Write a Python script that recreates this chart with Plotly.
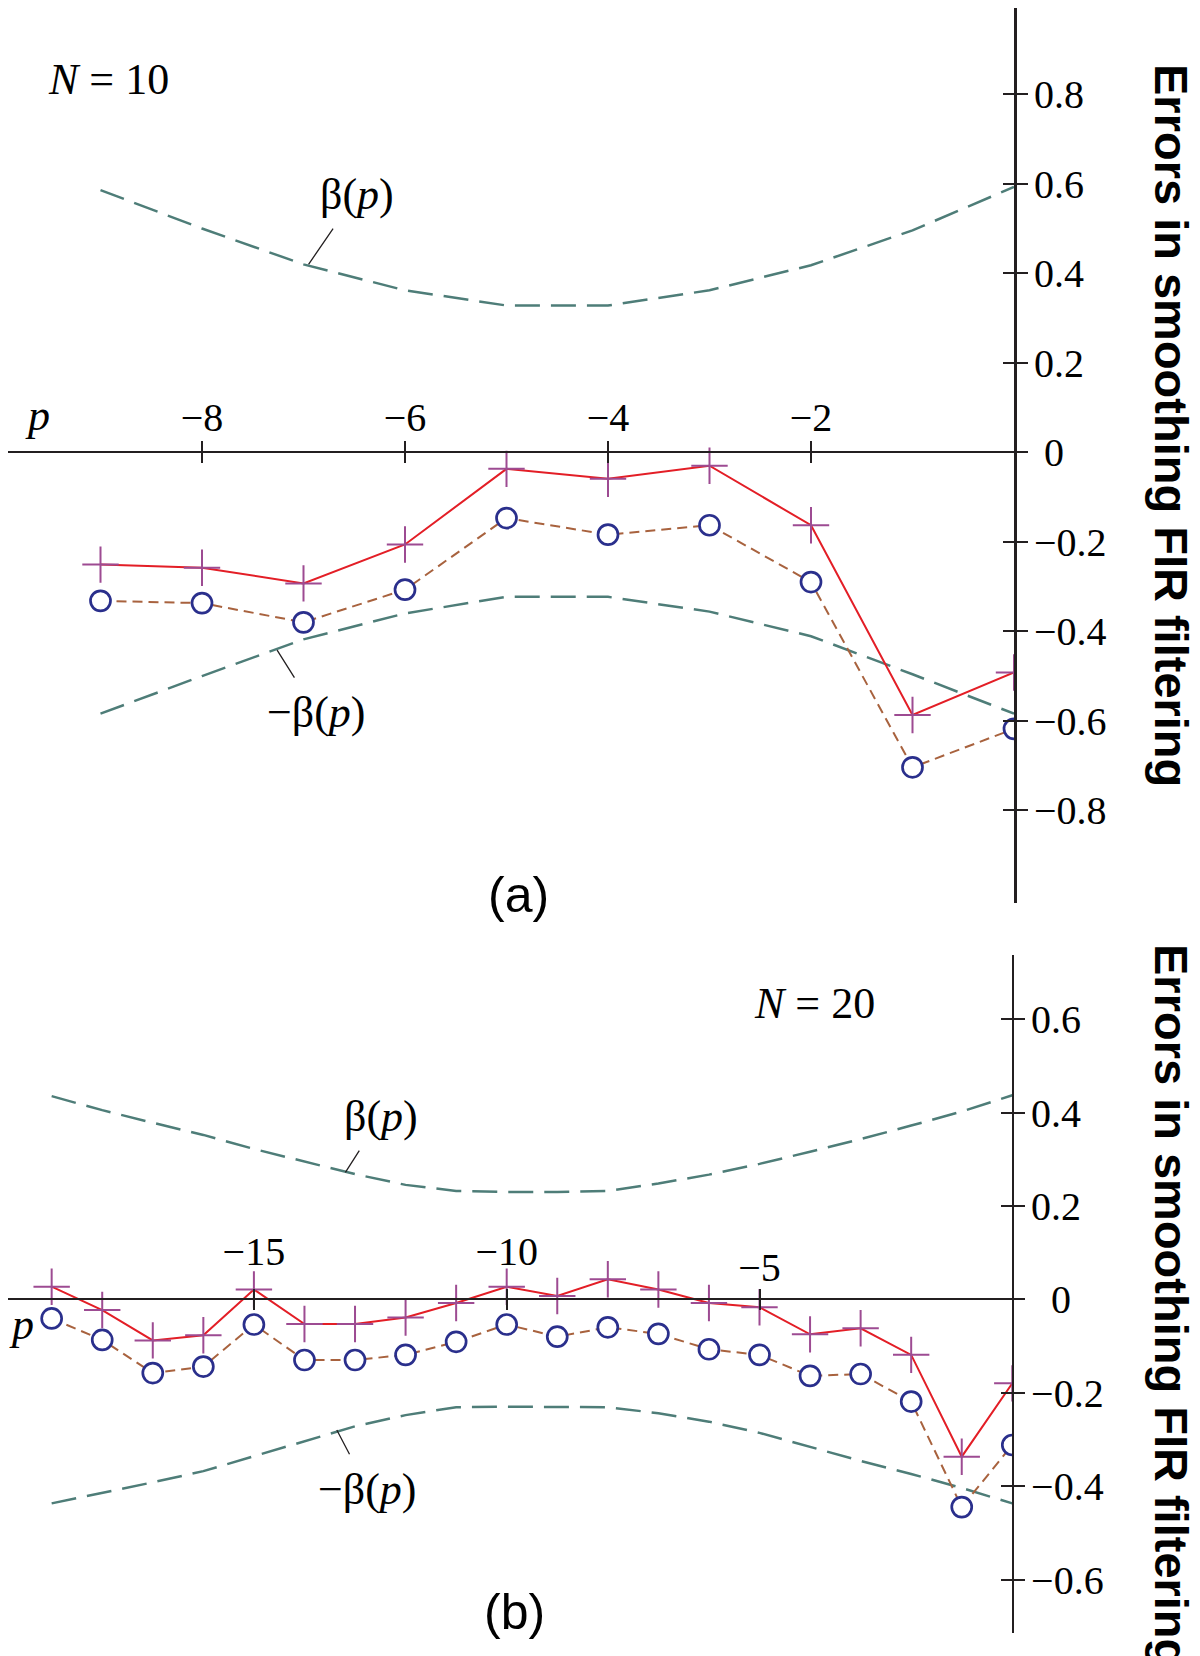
import plotly.graph_objects as go

# ---------------- data : panel (a), N = 10 ----------------
p_a = [-9, -8, -7, -6, -5, -4, -3, -2, -1, 0]
plus_a = [-0.251, -0.258, -0.293, -0.206, -0.037, -0.059, -0.030, -0.163, -0.587, -0.492]
circ_a = [-0.332, -0.337, -0.380, -0.307, -0.147, -0.184, -0.163, -0.290, -0.704, -0.618]
beta_a = [0.586, 0.500, 0.420, 0.362, 0.328, 0.328, 0.362, 0.418, 0.496, 0.593]
negbeta_a = [-0.584, -0.500, -0.418, -0.360, -0.323, -0.323, -0.356, -0.411, -0.496, -0.584]

# ---------------- data : panel (b), N = 20 ----------------
p_b = [-19, -18, -17, -16, -15, -14, -13, -12, -11, -10,
       -9, -8, -7, -6, -5, -4, -3, -2, -1, 0]
plus_b = [0.027, -0.023, -0.088, -0.077, 0.021, -0.053, -0.053, -0.039, -0.008, 0.027,
          0.007, 0.043, 0.021, -0.008, -0.017, -0.075, -0.062, -0.119, -0.337, -0.180]
circ_b = [-0.041, -0.087, -0.158, -0.144, -0.054, -0.130, -0.130, -0.119, -0.091, -0.054,
          -0.080, -0.060, -0.074, -0.107, -0.119, -0.164, -0.160, -0.219, -0.445, -0.312]
beta_b = [0.435, 0.405, 0.378, 0.352, 0.322, 0.295, 0.268, 0.245, 0.232, 0.230,
          0.230, 0.232, 0.248, 0.267, 0.290, 0.316, 0.343, 0.372, 0.402, 0.437]
negbeta_b = [-0.437, -0.415, -0.392, -0.368, -0.336, -0.305, -0.272, -0.248, -0.231, -0.230,
             -0.230, -0.231, -0.244, -0.262, -0.286, -0.316, -0.346, -0.374, -0.404, -0.437]

# ---------------- ticks ----------------
xt_a = [-8, -6, -4, -2]
xt_a_text = ["\u22128", "\u22126", "\u22124", "\u22122"]
yt_a = [-0.8, -0.6, -0.4, -0.2, 0, 0.2, 0.4, 0.6, 0.8]
yt_a_text = ["\u22120.8", "\u22120.6", "\u22120.4", "\u22120.2", "\u20050", "0.2", "0.4", "0.6", "0.8"]

xt_b = [-15, -10, -5]
xt_b_text = ["\u221215", "\u221210", ""]
xt_b2 = [-5]
xt_b2_text = ["\u22125"]
yt_b = [-0.6, -0.4, -0.2, 0, 0.2, 0.4, 0.6]
yt_b_text = ["\u22120.6", "\u22120.4", "\u22120.2", "\u20020", "0.2", "0.4", "0.6"]

# ---------------- layout geometry (page pixels) ----------------
PAGE_W, PAGE_H = 1200, 1656
OFF = 8                      # default body margin of the html page
FW, FH = PAGE_W - OFF, PAGE_H - OFF


def fx(px):
    return (px - OFF) / FW


def fy(py):
    return 1 - (py - OFF) / FH


def panel_geometry(x0_px, x_ppu, x_ext, y0_px, y_ppu, y_ext):
    xe0, xe1 = max(x_ext[0], OFF), x_ext[1]
    ye0, ye1 = max(y_ext[0], OFF), y_ext[1]
    xdom = [fx(xe0), fx(xe1)]
    xrng = [(xe0 - x0_px) / x_ppu, (xe1 - x0_px) / x_ppu]
    ydom = [fy(ye1), fy(ye0)]
    yrng = [(y0_px - ye1) / y_ppu, (y0_px - ye0) / y_ppu]
    return xdom, xrng, ydom, yrng


XA, XRA, YA, YRA = panel_geometry(1014, 101.5, (0, 1014), 452.3, 447.5, (0, 903))
XB, XRB, YB, YRB = panel_geometry(1012.3, 50.56, (0, 1012.3), 1299.3, 467.0, (955, 1633))


def zero_pos(dom, rng):
    return dom[0] + (dom[1] - dom[0]) * (0 - rng[0]) / (rng[1] - rng[0])


POS_A = zero_pos(YA, YRA)
POS_B = zero_pos(YB, YRB)

AX = "#231f20"
SERIF = "Liberation Serif"
SANS = "Liberation Sans"
TEAL = "#4e7d78"
RED = "#e31e26"
PURPLE = "#9d4b92"
BROWN = "#a8623e"
NAVY = "#2a2f8c"

fig = go.Figure()


def add_panel(p, beta, negbeta, plus, circ, xa, ya):
    fig.add_trace(go.Scatter(x=p, y=beta, mode="lines", xaxis=xa, yaxis=ya,
                             line=dict(color=TEAL, width=2.5, dash="25px,11px")))
    fig.add_trace(go.Scatter(x=p, y=negbeta, mode="lines", xaxis=xa, yaxis=ya,
                             line=dict(color=TEAL, width=2.5, dash="25px,11px")))
    fig.add_trace(go.Scatter(x=p, y=circ, mode="lines+markers", xaxis=xa, yaxis=ya,
                             line=dict(color=BROWN, width=2, dash="10px,6px"),
                             marker=dict(symbol="circle", size=20, color="white",
                                         line=dict(color=NAVY, width=2.7))))
    fig.add_trace(go.Scatter(x=p, y=plus, mode="lines+markers", xaxis=xa, yaxis=ya,
                             line=dict(color=RED, width=2),
                             marker=dict(symbol="cross-thin", size=26, color=PURPLE,
                                         line=dict(color=PURPLE, width=2))))


add_panel(p_a, beta_a, negbeta_a, plus_a, circ_a, "x", "y")
add_panel(p_b, beta_b, negbeta_b, plus_b, circ_b, "x2", "y2")

# empty helper traces so that the overlaid tick axes (crossing ticks) are drawn
for xa, ya in [("x3", "y3"), ("x4", "y4"), ("x5", "y4")]:
    fig.add_trace(go.Scatter(x=[None], y=[None], xaxis=xa, yaxis=ya, mode="lines",
                             hoverinfo="skip"))

tickfont = dict(family=SERIF, size=40, color="black")
common = dict(showgrid=False, zeroline=False, tickcolor=AX, tickwidth=1.5)

fig.update_layout(
    width=FW, height=FH, margin=dict(l=0, r=0, t=0, b=0),
    paper_bgcolor="white", plot_bgcolor="rgba(0,0,0,0)", showlegend=False,
    # ---- panel (a)
    xaxis=dict(domain=XA, range=XRA, anchor="free", position=POS_A, side="top",
               showline=True, linecolor=AX, linewidth=2, ticks="outside", ticklen=10,
               tickvals=xt_a, ticktext=xt_a_text, tickfont=tickfont,
               ticklabelstandoff=-6, **common),
    xaxis3=dict(overlaying="x", range=XRA, anchor="free", position=POS_A, side="bottom",
                showline=False, ticks="outside", ticklen=10, tickvals=xt_a,
                showticklabels=False, **common),
    yaxis=dict(domain=YA, range=YRA, anchor="x", side="right",
               showline=True, linecolor=AX, linewidth=3, ticks="outside", ticklen=11,
               tickvals=yt_a, ticktext=yt_a_text, tickfont=tickfont,
               ticklabelstandoff=-2, **common),
    yaxis3=dict(overlaying="y", range=YRA, anchor="free", position=XA[1], side="left",
                showline=False, ticks="outside", ticklen=11, tickvals=yt_a,
                showticklabels=False, **common),
    # ---- panel (b)
    xaxis2=dict(domain=XB, range=XRB, anchor="free", position=POS_B, side="top",
                showline=True, linecolor=AX, linewidth=1.6, ticks="outside", ticklen=10,
                tickvals=xt_b, ticktext=xt_b_text, tickfont=tickfont,
                ticklabelstandoff=8, **common),
    xaxis4=dict(overlaying="x2", range=XRB, anchor="free", position=POS_B, side="bottom",
                showline=False, ticks="outside", ticklen=10, tickvals=xt_b,
                showticklabels=False, **common),
    xaxis5=dict(overlaying="x2", range=XRB, anchor="free", position=POS_B, side="top",
                showline=False, ticks="", tickvals=xt_b2, ticktext=xt_b2_text,
                tickfont=tickfont, ticklabelstandoff=10, **common),
    yaxis2=dict(domain=YB, range=YRB, anchor="x2", side="right",
                showline=True, linecolor=AX, linewidth=1.6, ticks="outside", ticklen=11,
                tickvals=yt_b, ticktext=yt_b_text, tickfont=tickfont,
                ticklabelstandoff=-2, **common),
    yaxis4=dict(overlaying="y2", range=YRB, anchor="free", position=XB[1], side="left",
                showline=False, ticks="outside", ticklen=11, tickvals=yt_b,
                showticklabels=False, **common),
)

serif44 = dict(family=SERIF, size=44, color="black")
sans50 = dict(family=SANS, size=50, color="black")
title_font = dict(family=SANS, size=47, color="black")


def text_at(px, py, txt, font, angle=0):
    fig.add_annotation(x=fx(px), y=fy(py), xref="paper", yref="paper", text=txt,
                       showarrow=False, font=font, xanchor="center", yanchor="middle",
                       textangle=angle)


def leader(xa, ya, xv, yv, dx, dy, txt):
    fig.add_annotation(x=xv, y=yv, xref=xa, yref=ya, ax=dx, ay=dy, text=txt,
                       showarrow=True, arrowhead=0, arrowwidth=1.3, arrowcolor=AX,
                       startstandoff=10, standoff=0, font=serif44)


# panel (a) labels
text_at(108, 79, "<i>N</i> = 10", serif44)
text_at(38, 415, "<i>p</i>", serif44)
text_at(518, 895, "(a)", sans50)
leader("x", "y", -6.95, 0.42, 48, -70, "\u03b2(<i>p</i>)")
leader("x", "y", -7.26, -0.442, 39, 62, "\u2212\u03b2(<i>p</i>)")
text_at(1172, 425, "<b>Errors in smoothing FIR filtering</b>", title_font, angle=90)

# panel (b) labels
text_at(814, 1003, "<i>N</i> = 20", serif44)
text_at(21, 1324, "<i>p</i>", serif44)
text_at(514, 1612, "(b)", sans50)
leader("x2", "y2", -13.19, 0.272, 36, -56, "\u03b2(<i>p</i>)")
leader("x2", "y2", -13.36, -0.280, 31, 59, "\u2212\u03b2(<i>p</i>)")
text_at(1172, 1305, "<b>Errors in smoothing FIR filtering</b>", title_font, angle=90)

fig.write_html("out.html")
